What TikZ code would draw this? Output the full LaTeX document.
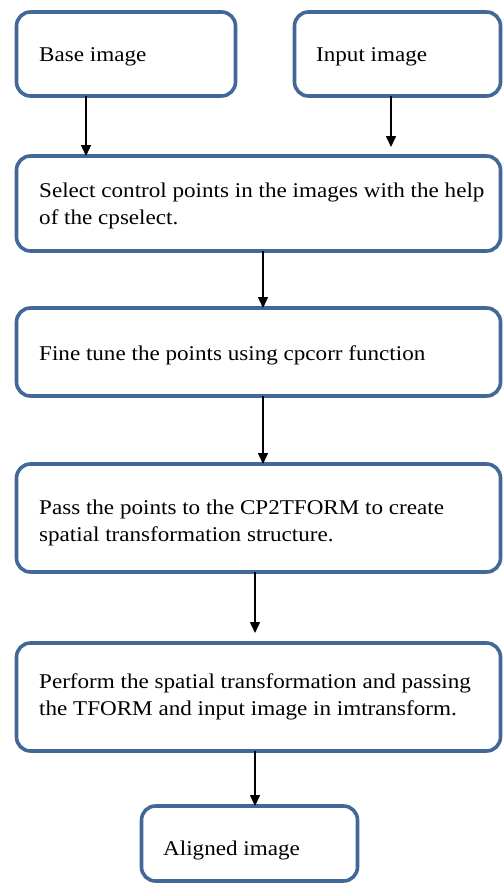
\documentclass[tikz,border=0pt]{standalone}
\usepackage{fontspec}
\setmainfont{Liberation Serif}[FakeStretch=1.1]
\usetikzlibrary{arrows.meta,calc}
\definecolor{boxblue}{RGB}{66,104,152}
\begin{document}
\begin{tikzpicture}[x=1pt,y=-1pt,
  box/.style={draw=boxblue, line width=3.6pt, rounded corners=14pt, fill=white, inner sep=0pt, outer sep=0pt, anchor=north west},
  txt/.style={inner sep=0pt, anchor=base west, align=left, font=\fontsize{21}{26.5}\selectfont},
  arr/.style={draw=black, line width=1.5pt, -{Triangle[length=11pt,width=10pt]}}]
\useasboundingbox (0,0) rectangle (503,883);
\fill[white] (0,0) rectangle (503,883);
% boxes
\node[box, minimum width=219pt, minimum height=84pt] (base) at (16.5,12) {};
\node[box, minimum width=206pt, minimum height=84pt] (input) at (294.5,12) {};
\node[box, minimum width=484pt, minimum height=95pt] (sel) at (16.5,156) {};
\node[box, minimum width=484pt, minimum height=88pt] (fine) at (16.5,308) {};
\node[box, minimum width=484pt, minimum height=108pt] (pass) at (16.5,464) {};
\node[box, minimum width=484pt, minimum height=108pt] (perf) at (16.5,643) {};
\node[box, minimum width=216pt, minimum height=75pt] (align) at (141.5,806) {};
% texts (base anchor = baseline of the last line)
\node[txt] (tbase) at (39,62) {Base image};
\node[txt] (tinput) at (316,62) {Input image};
\node[txt] (tsel) at (39,224) {Select control points in the images with the help\\of the cpselect.};
\node[txt] (tfine) at (39,360) {Fine tune the points using cpcorr function};
\node[txt] (tpass) at (39,541) {Pass the points to the CP2TFORM to create\\spatial transformation structure.};
\node[txt] (tperf) at (39,715) {Perform the spatial transformation and passing\\the TFORM and input image in imtransform.};
\node[txt] (talign) at (163,855) {Aligned image};
% connectors
\draw[arr] ([xshift=-40pt]base.south) -- ([xshift=-40pt]base.south |- sel.north);
\draw[arr, shorten >=9pt] ([xshift=-6.5pt]input.south) -- ([xshift=-6.5pt]input.south |- sel.north);
\draw[arr] ([xshift=4.5pt]sel.south) -- ([xshift=4.5pt]sel.south |- fine.north);
\draw[arr] ([xshift=4.5pt]fine.south) -- ([xshift=4.5pt]fine.south |- pass.north);
\draw[arr, shorten >=10pt] ([xshift=-3.5pt]pass.south) -- ([xshift=-3.5pt]pass.south |- perf.north);
\draw[arr] ([xshift=-3.5pt]perf.south) -- ([xshift=-3.5pt]perf.south |- align.north);
\end{tikzpicture}
\end{document}
